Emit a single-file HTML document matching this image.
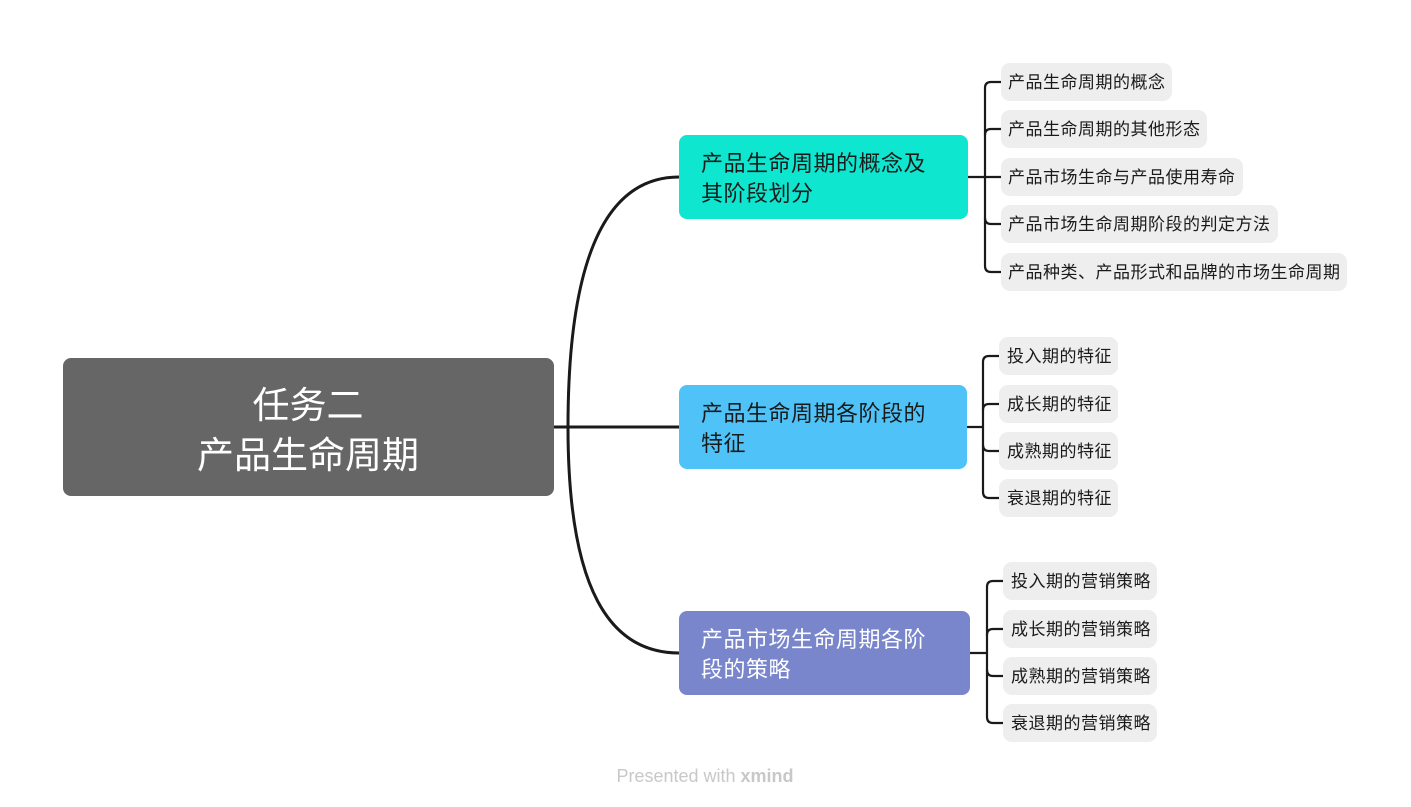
<!DOCTYPE html>
<html><head><meta charset="utf-8"><style>
html,body{margin:0;padding:0;background:#fff;width:1411px;height:807px;overflow:hidden}
svg text{font-family:"Liberation Sans","Noto Sans CJK SC",sans-serif}
</style></head><body>
<svg width="1411" height="807" viewBox="0 0 1411 807" xmlns="http://www.w3.org/2000/svg">
<g fill="none" stroke="#1a1a1a" stroke-width="3" stroke-linecap="round">
<path d="M554 427 L679 427"/>
<path d="M568 427 C568 250 610 177 679 177"/>
<path d="M568 427 C568 590 610 653 679 653"/>
</g>
<g fill="none" stroke="#1a1a1a" stroke-width="2.2" stroke-linecap="round">
<path d="M968 177 L1001 177"/>
<path d="M1001 82 L991 82 Q985 82 985 88 L985 266 Q985 272 991 272 L1001 272"/>
<path d="M985 135 Q985 129 991 129 L1001 129"/>
<path d="M985 218 Q985 224 991 224 L1001 224"/>
<path d="M967 427 L983 427"/>
<path d="M999 356 L989 356 Q983 356 983 362 L983 492 Q983 498 989 498 L999 498"/>
<path d="M983 410 Q983 404 989 404 L999 404"/>
<path d="M983 445 Q983 451 989 451 L999 451"/>
<path d="M970 653 L987 653"/>
<path d="M1003 581 L993 581 Q987 581 987 587 L987 717 Q987 723 993 723 L1003 723"/>
<path d="M987 635 Q987 629 993 629 L1003 629"/>
<path d="M987 670 Q987 676 993 676 L1003 676"/>
</g>
<rect x="63" y="358" width="491" height="138" rx="8" fill="#666666"/>
<text x="308" y="418" fill="#fff" font-size="37" text-anchor="middle">任务二</text>
<text x="308" y="468" fill="#fff" font-size="37" text-anchor="middle">产品生命周期</text>
<rect x="679" y="135" width="289" height="84" rx="8" fill="#0ee6cf"/>
<g font-size="22" letter-spacing="0.5">
<text x="701" y="171" fill="#1a1a1a">产品生命周期的概念及</text>
<text x="701" y="201" fill="#1a1a1a">其阶段划分</text>
<rect x="679" y="385" width="288" height="84" rx="8" fill="#4fc3f7"/>
<text x="701" y="421" fill="#1a1a1a">产品生命周期各阶段的</text>
<text x="701" y="451" fill="#1a1a1a">特征</text>
<rect x="679" y="611" width="291" height="84" rx="8" fill="#7986cb"/>
<text x="701" y="647" fill="#fff">产品市场生命周期各阶</text>
<text x="701" y="677" fill="#fff">段的策略</text>
</g>
<g font-size="17" letter-spacing="0.5" fill="#1a1a1a">
<rect x="1001" y="63" width="171" height="38" rx="9" fill="#eeeeee"/><text x="1008" y="88">产品生命周期的概念</text>
<rect x="1001" y="110" width="206" height="38" rx="9" fill="#eeeeee"/><text x="1008" y="135">产品生命周期的其他形态</text>
<rect x="1001" y="158" width="242" height="38" rx="9" fill="#eeeeee"/><text x="1008" y="183">产品市场生命与产品使用寿命</text>
<rect x="1001" y="205" width="277" height="38" rx="9" fill="#eeeeee"/><text x="1008" y="230">产品市场生命周期阶段的判定方法</text>
<rect x="1001" y="253" width="346" height="38" rx="9" fill="#eeeeee"/><text x="1008" y="278">产品种类、产品形式和品牌的市场生命周期</text>
<rect x="999" y="337" width="119" height="38" rx="9" fill="#eeeeee"/><text x="1007" y="362">投入期的特征</text>
<rect x="999" y="385" width="119" height="38" rx="9" fill="#eeeeee"/><text x="1007" y="410">成长期的特征</text>
<rect x="999" y="432" width="119" height="38" rx="9" fill="#eeeeee"/><text x="1007" y="457">成熟期的特征</text>
<rect x="999" y="479" width="119" height="38" rx="9" fill="#eeeeee"/><text x="1007" y="504">衰退期的特征</text>
<rect x="1003" y="562" width="154" height="38" rx="9" fill="#eeeeee"/><text x="1011" y="587">投入期的营销策略</text>
<rect x="1003" y="610" width="154" height="38" rx="9" fill="#eeeeee"/><text x="1011" y="635">成长期的营销策略</text>
<rect x="1003" y="657" width="154" height="38" rx="9" fill="#eeeeee"/><text x="1011" y="682">成熟期的营销策略</text>
<rect x="1003" y="704" width="154" height="38" rx="9" fill="#eeeeee"/><text x="1011" y="729">衰退期的营销策略</text>
</g>
<text x="705" y="782" font-size="18" fill="#c8c8c8" text-anchor="middle">Presented with <tspan font-weight="bold">xmind</tspan></text>
</svg>
</body></html>
